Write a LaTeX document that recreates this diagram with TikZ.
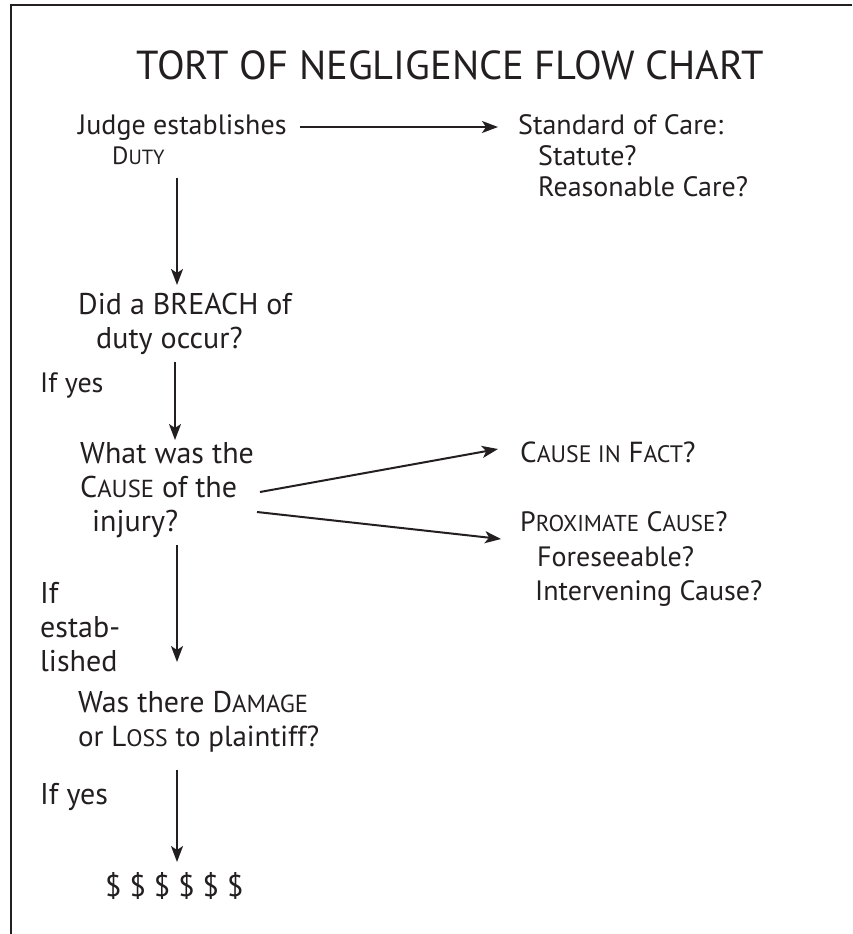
\documentclass[tikz,border=0pt]{standalone}
\usepackage{fontspec}
\setmainfont{PT Sans}
\usetikzlibrary{arrows.meta}
\definecolor{ink}{HTML}{231F20}
\newcommand{\smc}[1]{\scalebox{0.82}{#1}}
\begin{document}
\begin{tikzpicture}[x=1pt,y=-1pt,
  txt/.style={anchor=base west, inner sep=0pt, font=\fontsize{28}{34}\selectfont, text=ink},
  big/.style={txt, font=\fontsize{30}{34}\selectfont},
  mid/.style={txt, font=\fontsize{29}{34}\selectfont},
  arr/.style={-{Stealth[length=16pt,width=12pt,inset=4pt]}, line width=2pt, draw=ink}]
\useasboundingbox (0,0) rectangle (852,934);
\fill[white] (0,0) rectangle (852,934);
\draw[line width=2pt, ink] (852,5) -- (11,5) -- (11,934);
% texts
\node[txt, anchor=base] (title) at (450,79) {\fontsize{40.5}{42}\selectfont TORT OF NEGLIGENCE FLOW CHART};
\node[txt] (judge) at (78,134) {Judge establishes};
\node[txt] (duty) at (112,164) {\fontsize{25}{25}\selectfont D\smc{UTY}};
\node[txt] (soc) at (518,134) {Standard of Care:};
\node[txt] (statute) at (538,165) {Statute?};
\node[txt] (reas) at (538,196) {Reasonable Care?};
\node[big] (breach1) at (78,314) {Did a BREACH of};
\node[big] (breach2) at (96,348) {duty occur?};
\node[txt] (ifyes1) at (40,392) {If yes};
\node[big] (cause1) at (80,463) {What was the};
\node[big] (cause2) at (80,497) {C\smc{AUSE} of the};
\node[big] (cause3) at (92,531) {injury?};
\node[mid] (fact) at (520,462) {C\smc{AUSE IN} F\smc{ACT}?};
\node[txt] (prox) at (520,531) {P\smc{ROXIMATE} C\smc{AUSE}?};
\node[txt] (fore) at (537,566) {Foreseeable?};
\node[txt] (interv) at (535,600) {Intervening Cause?};
\node[big] (if) at (40,603) {If};
\node[big] (estab) at (40,637) {estab-};
\node[big] (lished) at (40,671) {lished};
\node[big] (dmg1) at (78,712) {Was there D\smc{AMAGE}};
\node[mid] (dmg2) at (78,746) {or L\smc{OSS} to plaintiff?};
\node[big] (ifyes2) at (40,804) {If yes};
\node[big] (money) at (105,896) {\$ \$ \$ \$ \$ \$};
% connector ends
\coordinate (h1) at (300,127); \coordinate (h2) at (498,127);
\coordinate (v1a) at (177,178); \coordinate (v1b) at (177,285);
\coordinate (v2a) at (175,362); \coordinate (v2b) at (175,440);
\coordinate (c1a) at (260,492); \coordinate (c1b) at (498,449);
\coordinate (c2a) at (257,512); \coordinate (c2b) at (501,539);
\coordinate (v3a) at (177,545); \coordinate (v3b) at (177,662);
\coordinate (v4a) at (177,770); \coordinate (v4b) at (177,862);
\draw[arr] (h1) -- (h2);
\draw[arr] (v1a) -- (v1b);
\draw[arr] (v2a) -- (v2b);
\draw[arr] (c1a) -- (c1b);
\draw[arr] (c2a) -- (c2b);
\draw[arr] (v3a) -- (v3b);
\draw[arr] (v4a) -- (v4b);
\end{tikzpicture}
\end{document}
